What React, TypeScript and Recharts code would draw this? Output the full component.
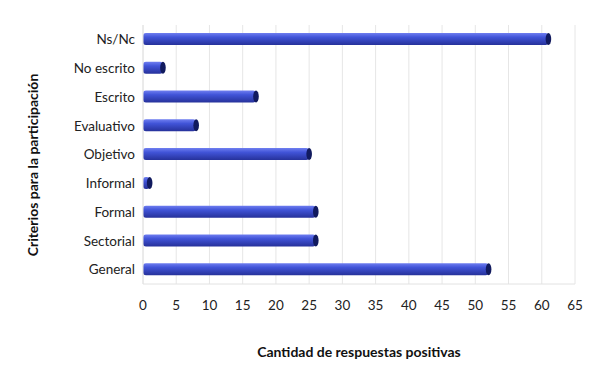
import { BarChart, Bar, XAxis, YAxis, CartesianGrid } from 'recharts';

const categories = ['Ns/Nc', 'No escrito', 'Escrito', 'Evaluativo', 'Objetivo', 'Informal', 'Formal', 'Sectorial', 'General'];
const values = [61, 3, 17, 8, 25, 1, 26, 26, 52];
const xTicks = [0, 5, 10, 15, 20, 25, 30, 35, 40, 45, 50, 55, 60, 65];

const data = categories.map((name, i) => ({ name, value: values[i] }));

const FONT = 'Lato, "Open Sans", sans-serif';

// cylinder-like bar with a dark end cap
const Cylinder = (props: any) => {
  const { x, y, width, height } = props;
  if (width == null || width <= 0) return null;
  const cy = y + height / 2;
  return (
    <g>
      <rect x={x} y={y} width={width} height={height} rx={3} ry={3} fill="url(#barGrad)" />
      <ellipse cx={x + width} cy={cy} rx={2.8} ry={height / 2} fill="#111a5e" />
    </g>
  );
};

export default function App() {
  return (
    <div style={{ fontFamily: FONT }}>
      <BarChart
        width={584}
        height={357}
        data={data}
        layout="vertical"
        margin={{ top: 17, right: 17, bottom: 0, left: 20 }}
      >
        <defs>
          <linearGradient id="barGrad" x1="0" y1="0" x2="0" y2="1">
            <stop offset="0%" stopColor="#6f7ef0" />
            <stop offset="35%" stopColor="#4154d8" />
            <stop offset="100%" stopColor="#26319a" />
          </linearGradient>
        </defs>
        <CartesianGrid horizontal={false} stroke="#e6e6e6" />
        <XAxis
          type="number"
          domain={[0, 65]}
          ticks={xTicks}
          interval={0}
          height={81}
          tickLine={false}
          tickSize={0}
          tickMargin={16}
          axisLine={{ stroke: '#e2e2e2' }}
          tick={{ fill: '#222', fontSize: 13.5, fontFamily: FONT }}
          label={{
            value: 'Cantidad de respuestas positivas',
            position: 'insideBottom',
            offset: 8,
            fill: '#111',
            fontSize: 14,
            fontWeight: 'bold',
            fontFamily: FONT,
          }}
        />
        <YAxis
          type="category"
          dataKey="name"
          width={115}
          tickLine={false}
          tickSize={0}
          tickMargin={8}
          axisLine={{ stroke: '#e2e2e2' }}
          tick={{ fill: '#222', fontSize: 13.5, fontFamily: FONT }}
          label={{
            content: () => (
              <text
                x={24}
                y={157}
                transform="rotate(-90 24 157)"
                textAnchor="middle"
                dominantBaseline="central"
                fill="#111"
                fontSize={14}
                fontWeight="bold"
                fontFamily={FONT}
              >
                Criterios para la participación
              </text>
            ),
          }}
        />
        <Bar dataKey="value" barSize={12} shape={<Cylinder />} isAnimationActive={false} />
      </BarChart>
    </div>
  );
}
